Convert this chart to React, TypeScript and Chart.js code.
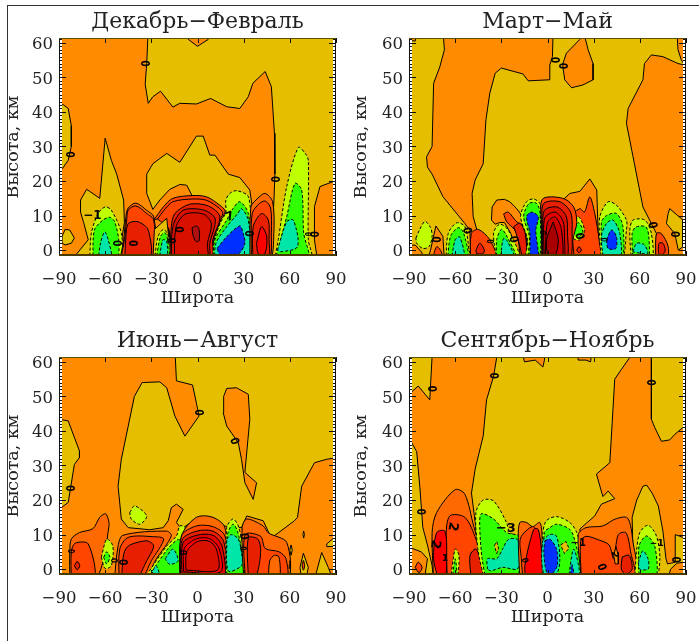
import { useEffect, useRef } from "react";
import { Chart, registerables } from "chart.js";

Chart.register(...registerables);

type Pt = [number, number];
type Lab = [number, number, string, number, number];
type Layer = [string, boolean, Pt[]];

const titles = ["Декабрь−Февраль", "Март−Май", "Июнь−Август", "Сентябрь−Ноябрь"];
const xTitle = "Широта";
const yTitle = "Высота, км";
const latTicks = [-90, -60, -30, 0, 30, 60, 90];
const kmTicks = [0, 10, 20, 30, 40, 50, 60];

const ORANGE = "#FF8C00", GOLD = "#E6BE00", LIME = "#BFFF00", GREEN = "#30FF00", TEAL = "#00E6A8", BLUE = "#0030FF";
const ORG2 = "#FF6A00", ORG3 = "#FF4500", RED1 = "#E62000", RED2 = "#D81000", RED3 = "#FF0000", RED4 = "#A80000";

const wholePlot: Pt[] = [[-95, -6], [95, -6], [95, 66], [-95, 66]];

// ---------- Декабрь-Февраль ----------
const djfGoldMain: Pt[] = [[-32, 64], [-33, 54], [-34, 48], [-32, 42.5], [-29, 44.4], [-24, 46], [-16, 41.4], [-11.5, 42.5], [-0.7, 42.3], [8.5, 43.9], [19, 41.5], [27.5, 41], [33, 44.4], [36, 48.3], [44, 51.7], [48, 47.3], [50, 33.8], [50.3, 22], [49.7, 14.5], [47.5, -3], [78, -3], [76, 3], [76, 12.6], [79.6, 18.4], [95, 21], [95, 64]];
const djfTopOrange: Pt[] = [[-7, 64], [-6, 61], [0, 59], [7, 61], [8, 64]];
const djfGoldLeft: Pt[] = [[-95, 43.8], [-87, 42], [-84, 41], [-82, 36], [-82, 30], [-84, 26], [-88, 23.5], [-95, 21]];
const djfGoldPatch: Pt[] = [[-88, 4], [-86, 6], [-83, 5.8], [-80, 3.5], [-82, 2], [-86, 1.5], [-88, 2]];
const djfGoldSpike: Pt[] = [[-76, 14.5], [-72, 17.6], [-63.5, 15], [-60, 32.4], [-56, 26], [-52.5, 22], [-48, 14.5], [-47.5, 8], [-50, 1], [-51, -3], [-82, -3], [-71, 3], [-74, 8], [-76, 11]];
const djfGoldCentre: Pt[] = [[-33, 22], [-29, 25], [-20, 28], [-11.5, 25.4], [-0.7, 33], [3.7, 33], [8, 27.5], [11.3, 27.5], [20, 22], [27.5, 21], [34, 17.4], [35.6, 12.5], [34, -3], [10, -3], [10, 2], [16, 10], [13, 13], [6, 15], [-3, 15.3], [-7, 18.8], [-11.5, 19], [-18, 17.6], [-24.5, 14.5], [-29, 11.8], [-33, 16.4]];
const djfLimeA: Pt[] = [[-70, -3], [-69, 4.8], [-64.6, 10.6], [-60, 12.5], [-56, 11.6], [-49.5, 4.8], [-50.5, -3]];
const djfGreenA: Pt[] = [[-68, -3], [-67, 5.8], [-61.4, 8.7], [-57, 9.5], [-53.8, 8.2], [-51, 2], [-53, -3]];
const djfTealA: Pt[] = [[-64.6, -3], [-63, 2], [-60.3, 5.3], [-58, 3], [-56, -3]];
const djfOrg2A: Pt[] = [[-50.5, -3], [-48, 3], [-46.5, 9.7], [-45, 12.2], [-40, 13.6], [-33, 11.5], [-28.4, 9.6], [-28, -3]];
const djfOrg3A: Pt[] = [[-50, -3], [-47.5, 3], [-46, 8.7], [-45, 11.6], [-40, 12.8], [-33, 10.6], [-28.4, 8.7], [-29, -3]];
const djfRed1A: Pt[] = [[-47.3, -3], [-46.5, 4], [-45, 7.7], [-38.6, 8.2], [-32, 5.8], [-31, -3]];
const djfGoldGap: Pt[] = [[-29, -3], [-28, 6], [-20, 9.2], [-19, 5], [-18, -3]];
const djfLimeB: Pt[] = [[-28, -3], [-25.6, 4], [-22, 6], [-19, 4], [-18, -3]];
const djfGreenB: Pt[] = [[-27, -3], [-24, 4], [-21, 5], [-19, 2], [-18.5, -3]];
const djfTealB: Pt[] = [[-25, -3], [-22.5, 3], [-20, 2.5], [-20, -3]];
const djfOrg3B: Pt[] = [[-28.4, 8.7], [-22, 12.6], [-16, 15], [-3, 15.8], [6, 15.4], [14.5, 13], [18, 11.2], [14.5, 8.2], [10, 3], [9, -3], [-18, -3], [-19, 5.8], [-20, 9.5]];
const djfOrg3C: Pt[] = [[-26, 9], [-22, 11.4], [-16, 14], [-3, 14.8], [6, 14.4], [14.5, 12], [16.5, 10.5], [13, 8.2], [9, 3], [8.5, -3], [-18, -3], [-18.5, 6]];
const djfRed1B: Pt[] = [[-18, -3], [-17, 6.8], [-14.7, 10.6], [-5, 13.3], [7, 12.8], [14.5, 9.7], [10, 3], [9, -3]];
const djfRed2B: Pt[] = [[-17, -3], [-16, 6.8], [-9.5, 11.5], [4, 11.6], [11.5, 9], [8, 2], [7, -3]];
const djfRed2C: Pt[] = [[-15, -3], [-14, 6.6], [-8, 10.4], [4, 10.4], [9, 7.6], [6.5, 2], [6, -3]];
const djfCore: Pt[] = [[-3.5, 6.5], [-0.5, 7], [1, 6], [1, 2.7], [-1, 2.5], [-3, 4.5]];
const djfLimeC: Pt[] = [[10, -3], [11, 3], [15, 8], [18.4, 11], [18.4, 14.5], [21, 16.4], [25.4, 17.2], [33, 15.5], [34.5, 6.8], [34.5, -3]];
const djfGreenC: Pt[] = [[10, -3], [11.3, 3], [19, 8.7], [23, 12], [27.5, 14], [33, 10.6], [34, -3]];
const djfTealC: Pt[] = [[11, -3], [12, 2], [19, 6.8], [26, 10.5], [28.6, 12], [33, 8.7], [33.5, -3]];
const djfBlueC: Pt[] = [[12.8, 0.5], [19, 3.9], [27.5, 7], [29.7, 4.8], [30.8, 2], [27, -1], [22, -1.2], [14.5, -1.2]];
const djfOrg2D: Pt[] = [[34, -3], [34.7, 12.5], [38, 14.5], [43.8, 16.4], [48.8, 14], [49.6, 4.8], [47, -3]];
const djfOrg3D: Pt[] = [[35, -3], [35.5, 10.5], [40, 13.4], [44, 14.2], [47.5, 12.2], [48, 5], [46.5, -3]];
const djfRed1D: Pt[] = [[36, -3], [36.2, 6.8], [41.6, 10.6], [46, 8.7], [46.5, 3], [46, -3]];
const djfRed3D: Pt[] = [[38.4, 2], [41.6, 6.8], [45, 3.9], [43.8, -1], [39.5, -1]];
const djfLimeE: Pt[] = [[50, -3], [52.5, 3], [58, 18.4], [65.5, 29.7], [70, 28], [72, 26], [72, 3], [74, -3]];
const djfGreenE: Pt[] = [[50.3, -3], [54, 3], [58, 9.7], [63.3, 19.3], [67.7, 17.4], [69, 5], [72, -3]];
const djfTealE: Pt[] = [[52, 0], [58, 8.2], [62.3, 8.7], [65, 1], [54, -0.5]];
const djfLabels: Lab[] = [[-34.7, 54, "0", 90, 12], [-83.5, 27.7, "0", 90, 12], [49.7, 20.5, "0", 90, 12], [-52.7, 2, "0", 90, 12], [-42.3, 2, "0", 90, 12], [-12.6, 6, "0", 90, 12], [-18, 2.7, "0", 90, 12], [33, 4.8, "0", 90, 12], [75.3, 4.6, "0", 90, 12], [71, 4.6, "0", 90, 8], [-68.3, 10, "−1", 0, 12], [21, 9.6, "7", 340, 12]];
const djfLayers: Layer[] = [[GOLD, false, djfGoldMain], [ORANGE, false, djfTopOrange], [GOLD, false, djfGoldLeft], [GOLD, false, djfGoldPatch], [GOLD, false, djfGoldSpike], [GOLD, false, djfGoldCentre], [LIME, true, djfLimeA], [GREEN, true, djfGreenA], [TEAL, true, djfTealA], [ORG2, false, djfOrg2A], [ORG3, false, djfOrg3A], [RED1, false, djfRed1A], [ORG3, false, djfOrg3B], [ORG3, false, djfOrg3C], [GOLD, false, djfGoldGap], [LIME, true, djfLimeB], [GREEN, true, djfGreenB], [TEAL, true, djfTealB], [RED1, false, djfRed1B], [RED2, false, djfRed2B], [RED2, false, djfRed2C], ["#B01010", false, djfCore], [LIME, true, djfLimeC], [GREEN, true, djfGreenC], [TEAL, true, djfTealC], [BLUE, true, djfBlueC], [ORG2, false, djfOrg2D], [ORG3, false, djfOrg3D], [RED1, false, djfRed1D], [RED3, false, djfRed3D], [LIME, true, djfLimeE], [GREEN, true, djfGreenE], [TEAL, true, djfTealE]];

// ---------- Март-Май ----------
const mamOrangeLeft: Pt[] = [[-68, 64], [-67, 58], [-70, 53], [-74, 48.3], [-75, 30], [-78.6, 27], [-78, 24], [-75, 22], [-68, 15.5], [-53.7, 7.7], [-50.4, 5.8], [-50, -3], [-33, -3], [-36, 0], [-41, 3.5], [-46, 6], [-48.3, 9.7], [-49, 16.4], [-47, 20.3], [-41.8, 25], [-40, 37.7], [-37.5, 45.4], [-34, 51.2], [-30, 52.7], [-16, 51], [-12.5, 49], [1, 49.3], [1.5, 53.6], [3.2, 56], [3.7, 64]];
const mamOrangeUp: Pt[] = [[10, 54], [12.3, 57], [21, 61], [23, 64], [26.4, 58], [29.6, 54], [29.6, 49.3], [23, 47.8], [15.6, 47], [11.2, 49.3], [10, 53]];
const mamOrangeRight: Pt[] = [[63, 54], [67.5, 56.5], [75, 56], [84.8, 54], [95, 53], [95, -3], [70, -3], [70.8, 4.8], [67.5, 7.7], [62, 12.5], [55.6, 27], [51.3, 36.7], [52.4, 41], [62, 49.3]];
const mamOrangeCorner: Pt[] = [[84, 64], [84.8, 58], [87, 55], [90, 53], [95, 53], [95, 64]];
const mamOrangeTL: Pt[] = [[-95, 61], [-86, 60.5], [-84, 64], [-95, 64]];
const mamGoldPocket: Pt[] = [[79.4, 12], [88, 8.7], [88, 1], [85, 0], [82.7, 4.8], [77.3, 7.7], [78.4, 10.6]];
const mamOrangeBL: Pt[] = [[-95, 1], [-86, 1.5], [-82, -0.5], [-79, -3], [-95, -3]];
const mamLimeA: Pt[] = [[-85.5, 3.5], [-83, 6], [-79.6, 8.3], [-76, 6.5], [-75, 4], [-77, 1], [-81, 0.5], [-85, 2]];
const mamOrangeB: Pt[] = [[-78, -3], [-76, 0], [-75, 2], [-72.5, 7], [-68, 4], [-67, -3]];
const mamOrg3B: Pt[] = [[-75, -3], [-72, 1], [-69, -0.5], [-68, -3]];
const mamLimeC: Pt[] = [[-66, -3], [-64.5, 4.8], [-59, 7.9], [-53.7, 6.8], [-51, 0], [-50, -3]];
const mamGreenC: Pt[] = [[-65, -3], [-63, 4], [-58, 6.5], [-54.5, 5], [-52, -3]];
const mamTealC: Pt[] = [[-62.5, -3], [-60, 3], [-57, 3.8], [-54, -3]];
const mamOrg3D: Pt[] = [[-50, -3], [-49.5, 4.8], [-45, 6], [-37.5, 3], [-33, -3]];
const mamRed1D: Pt[] = [[-46.5, 0], [-44, 2], [-41, 0], [-42, -1], [-46, -1]];
const mamOrangeE: Pt[] = [[-36.4, 8.7], [-36, 12.5], [-33, 14.5], [-28, 14.7], [-24.5, 14], [-20, 12], [-15, 9], [-13, 5], [-13, -3], [-18, -3], [-24, 5], [-28, 8], [-31, 8], [-34, 7.5]];
const mamOrg3E: Pt[] = [[-28.5, 10.5], [-25.5, 11], [-20, 8.2], [-15, 6.8], [-13.5, -3], [-17, -3], [-20, 5], [-26.5, 8.2]];
const mamRed1E: Pt[] = [[-22, 6.8], [-18, 7.8], [-14.5, 4.8], [-13.5, -3], [-15.5, -3], [-19, 2.9]];
const mamLimeF: Pt[] = [[-33, -3], [-35, 5], [-31, 7.5], [-25.5, 5.8], [-18, -3]];
const mamGreenF: Pt[] = [[-33, -3], [-33, 3], [-30, 6], [-27, 4.5], [-20, -3]];
const mamTealF: Pt[] = [[-30, -3], [-30, 0], [-28.5, 3.4], [-26, 2.5], [-21, -3]];
const mamLimeG: Pt[] = [[-15, -3], [-13, 3], [-17.5, 9.7], [-13.6, 14], [-9, 14.8], [-5, 13.5], [-4.5, 10.6], [-5, -3]];
const mamGreenG: Pt[] = [[-13, -3], [-11.8, 4], [-15.5, 9.7], [-12, 13.5], [-7, 13.5], [-4.8, 10.6], [-5.5, -3]];
const mamBlueG: Pt[] = [[-11.5, -3], [-11.5, 5], [-13.6, 9.7], [-10.4, 11], [-6, 9.7], [-7.6, 5.8], [-6, -3]];
const mamOrangeH: Pt[] = [[10, 14.5], [14.5, 16.4], [21, 17], [27.5, 20.6], [32, 17.4], [33.5, -3], [0, -3]];
const mamOrg3H: Pt[] = [[12, 9], [21, 12], [24, 11], [27.5, 15.4], [30.7, 10.6], [33.5, 3], [33.8, -3], [10, -3]];
const mamLimeH: Pt[] = [[16.2, 5.8], [20, 9.7], [24, 5.8], [21, 3], [16.7, 3.4]];
const mamGreenH: Pt[] = [[17, 5], [20, 8], [23, 5.5], [20, 3.6]];
const mamDiamond: Pt[] = [[19, 0], [20.5, 1], [22, 0], [20.5, -0.8]];
const mamSt1: Pt[] = [[-3.5, -3], [-4, 8], [-3.2, 14.8], [10, 15], [17, 12.5], [19, 8], [16.5, 3], [16, -3]];
const mamSt2: Pt[] = [[-3, -3], [-3.5, 8], [-2.5, 13.5], [8, 14], [15, 11], [16, 6], [14, -3]];
const mamSt3: Pt[] = [[-3, -3], [-3, 6], [-2, 11.5], [6, 12.5], [12, 10], [13, 5], [12, -3]];
const mamSt4: Pt[] = [[-2, -3], [-2.5, 5], [-1.5, 9.5], [5, 11], [10, 8.5], [11, 4], [10, -3]];
const mamSt5: Pt[] = [[-1.5, -3], [0, 8], [5, 9.6], [9, 6], [9, -3]];
const mamSt6: Pt[] = [[3.7, 8.2], [7, 3], [5, -1.5], [0.5, -1.5], [-0.6, 3]];
const mamLimeI: Pt[] = [[35, -3], [34, 3], [34, 9.7], [39.4, 14], [44.8, 13], [51.3, 8.7], [51.3, 5.8], [48, -3]];
const mamGreenI: Pt[] = [[36, -3], [35, 8], [38.3, 10], [44.8, 10.6], [49, 6.8], [48, -3]];
const mamTealI: Pt[] = [[36.5, -3], [35, 4], [38.3, 7.7], [42.6, 8.7], [47, 4.8], [47, -3]];
const mamBlueI: Pt[] = [[38.3, 3], [41.6, 5.8], [44.8, 3.9], [44.4, 0.5], [39.4, 0.5]];
const mamLimeJ: Pt[] = [[54.5, -3], [53.5, 5.8], [55.6, 8.7], [63.2, 8.7], [67.5, 4.8], [67.5, -3]];
const mamGreenJ: Pt[] = [[55.5, -3], [55, 4.8], [57.5, 6.7], [64, 6.7], [66, 3], [65, -3]];
const mamTealJ: Pt[] = [[55.5, -0.5], [58, 2], [63, 1.5], [65, -1]];
const mamOrg3K: Pt[] = [[70.3, -3], [70.8, 4.8], [74, 4.8], [78.4, 1], [77.5, -3]];
const mamRed1K: Pt[] = [[72, 0], [72.5, 2], [75, 2], [76.5, 0], [75, -1.2], [72.5, -1.2]];
const mamLabels: Lab[] = [[4, 55, "0", 90, 12], [9.5, 53.3, "0", 90, 12], [-52.6, 5.6, "0", 75, 12], [-73, 3.1, "0", 90, 12], [-22.3, 3.1, "0", 75, 12], [20.6, 4, "0", 75, 12], [68, 7.2, "0", 75, 12], [82.3, 4.6, "0", 90, 12], [36, 3, "0", 90, 8], [-38, 2.5, "0", 90, 8], [-3.5, 5, "0", 90, 8]];
const mamLayers: Layer[] = [[ORANGE, false, mamOrangeLeft], [ORANGE, false, mamOrangeUp], [ORANGE, false, mamOrangeRight], [ORANGE, false, mamOrangeCorner], [ORANGE, false, mamOrangeTL], [GOLD, false, mamGoldPocket], [ORANGE, false, mamOrangeBL], [LIME, true, mamLimeA], [ORANGE, false, mamOrangeB], [ORG3, false, mamOrg3B], [LIME, true, mamLimeC], [GREEN, true, mamGreenC], [TEAL, true, mamTealC], [ORG3, false, mamOrg3D], [RED1, false, mamRed1D], [ORANGE, false, mamOrangeE], [ORG3, false, mamOrg3E], [RED1, false, mamRed1E], [LIME, true, mamLimeF], [GREEN, true, mamGreenF], [TEAL, true, mamTealF], [LIME, true, mamLimeG], [GREEN, true, mamGreenG], [BLUE, true, mamBlueG], [ORANGE, false, mamOrangeH], [ORG3, false, mamOrg3H], [LIME, true, mamLimeH], [GREEN, true, mamGreenH], [RED1, false, mamDiamond], [ORG3, false, mamSt1], [RED1, false, mamSt2], [RED2, false, mamSt3], ["#E60000", false, mamSt4], ["#D00000", false, mamSt5], [RED4, false, mamSt6], [LIME, true, mamLimeI], [GREEN, true, mamGreenI], [TEAL, true, mamTealI], [BLUE, true, mamBlueI], [LIME, true, mamLimeJ], [GREEN, true, mamGreenJ], [TEAL, true, mamTealJ], [ORG3, false, mamOrg3K], [RED1, false, mamRed1K]];

// ---------- Июнь-Август ----------
const jjaGoldMain: Pt[] = [[-14.7, 64], [-13.7, 54.5], [-3.2, 53.3], [-0.7, 48], [1, 44.3], [-8.2, 38.5], [-14.7, 44.3], [-20, 52.5], [-24.5, 54.2], [-36, 54], [-41, 50], [-49.5, 31.8], [-51.6, 24], [-49.5, 14.5], [-45, 12], [-31, 11.4], [-22.3, 12], [-19, 14], [-17, 17.8], [-13.7, 18.8], [-9.3, 17.3], [-13.7, 13.5], [-10.4, 11.6], [0.4, 15], [10, 14.8], [16.7, 12.5], [28.6, 12], [32, 15.4], [42.7, 14], [48, 9], [63, 14], [65, 15], [67.7, 24], [76, 30.8], [84, 31.8], [95, 32.6], [95, 64]];
const jjaIsle: Pt[] = [[17, 50], [19, 52.3], [25.4, 52.5], [33, 50.6], [34, 43.4], [30.8, 28], [38.4, 25], [36.2, 20.2], [30.8, 25], [28.6, 31.8], [26.5, 36.6], [19, 41.4], [16.7, 45.3]];
const jjaGoldLeft: Pt[] = [[-95, 43.8], [-84, 42.9], [-76.7, 34.2], [-76.7, 32.3], [-80, 30.3], [-84, 19.3], [-88.5, 17.8], [-95, 17]];
const jjaLimeIsle: Pt[] = [[-44, 16.4], [-40.8, 18.3], [-33, 15.4], [-37.5, 13], [-43, 14.5]];
const jjaGoldBox: Pt[] = [[84, 7.3], [88, 8.8], [95, 8.6], [95, 6.7], [84, 6.5]];
const jjaGoldLow: Pt[] = [[76, -3], [80.7, 4.8], [85, 0.5], [88, -3]];
const jjaOrg2A: Pt[] = [[-83, -3], [-83, 5], [-82, 8.7], [-76.6, 10.6], [-68, 11.7], [-63.5, 15], [-59.6, 16], [-57.5, 12.5], [-66, -3]];
const jjaOrg3A: Pt[] = [[-82, -3], [-82, 5], [-79.5, 7.5], [-71, 7.3], [-67, -3]];
const jjaDiamond: Pt[] = [[-80, 1], [-78.2, 2.2], [-76.5, 1], [-78.2, -0.2]];
const jjaLimeB: Pt[] = [[-62.5, 3.4], [-59, 8.7], [-55, 6.7], [-56, 1], [-60, 0.2]];
const jjaGreenB: Pt[] = [[-61, 3.4], [-59, 5], [-57, 3.5], [-59, 1.5]];
const jjaOrg2C: Pt[] = [[-54, -3], [-51.6, 6.7], [-48.4, 9.8], [-20, 11], [-17, 9.6], [-26.7, 3], [-35, -3]];
const jjaOrg3C: Pt[] = [[-51, -3], [-50.5, 5.8], [-45, 9.2], [-29, 9.4], [-22, 8.7], [-30, 2.4], [-37, -3]];
const jjaRed1C: Pt[] = [[-49.5, -3], [-46.5, 6], [-33.5, 8.2], [-28.5, 6.8], [-33, 2.4], [-40, -3]];
const jjaLimeD: Pt[] = [[-35, -3], [-20, 6.7], [-13.7, 9.6], [-11.5, 12.5], [-8, 12], [-10.4, -3]];
const jjaGreenD: Pt[] = [[-33, -3], [-20, 5.5], [-13, 8.5], [-10.5, 8], [-10.5, -3]];
const jjaTealD: Pt[] = [[-21, 3], [-16, 5.8], [-12.6, 2.4], [-18, 1.4]];
const jjaTealE: Pt[] = [[-31, -3], [-27, 1], [-24.5, -3]];
const jjaSt1: Pt[] = [[-11.5, -3], [-10.4, 9.6], [-0.7, 15], [10, 15], [17.8, 12], [19, -3]];
const jjaSt2: Pt[] = [[-11.5, -3], [-10.4, 9.6], [-0.7, 12.5], [10, 12.3], [17.8, 9.6], [19, -3]];
const jjaSt3: Pt[] = [[-11, -3], [-10, 8.5], [-0.5, 11], [10, 11], [17, 8], [18, -3]];
const jjaSt4: Pt[] = [[-10, -3], [-9.5, 7.5], [-0.5, 9.8], [10, 9.8], [16, 6.5], [16.5, -3]];
const jjaSt5: Pt[] = [[-9, -0.8], [-8.5, 6], [-0.5, 8.8], [8, 8.8], [14, 6], [15, -0.8]];
const jjaSt6: Pt[] = [[-7.5, -0.3], [-7, 5], [0, 8], [8, 8], [12.5, 5.5], [13, -0.3]];
const jjaLimeF: Pt[] = [[18.5, -3], [19, 12], [23, 14.5], [26.5, 12.5], [30, 4.8], [29.5, -3]];
const jjaGreenF: Pt[] = [[19, -3], [19.5, 10], [23, 13], [26, 11], [29, 4], [29, -3]];
const jjaTealF: Pt[] = [[19, 8.7], [22, 10], [26.5, 8.7], [28.6, 4.8], [28.6, 1], [20, -0.5]];
const jjaOrg2G: Pt[] = [[30, -3], [29, 12], [32, 14.5], [42.7, 12.5], [46, 10.5], [58, 7.7], [58.3, -3]];
const jjaOrg3G: Pt[] = [[31, -3], [31, 10], [41, 9.5], [44, 6], [53, 5], [57.5, 3], [57.5, -3]];
const jjaHook: Pt[] = [[46, -3], [47, 2.5], [50, 4], [53, 3.5], [53, -3]];
const jjaRed1G: Pt[] = [[33, -3], [33, 9], [39, 8.8], [41, 6], [40, 1], [37, -3]];
const jjaLens: Pt[] = [[66.6, 0.5], [68.8, 4.6], [72, 0.5], [70.5, -3], [67.7, -3]];
const jjaLensIn: Pt[] = [[68, 1], [68.8, 2.5], [69.6, 1], [68.8, -0.3]];
const jjaTickA: Pt[] = [[68.5, 10], [69, 11], [69.5, 10], [69, 9]];
const jjaTickB: Pt[] = [[60, 5.5], [60.8, 7], [61.6, 5.5], [60.8, 4]];
const jjaTickC: Pt[] = [[59.6, 1.2], [60, 2.4], [60.5, 1.2], [60, 0.2]];
const jjaLabels: Lab[] = [[0.5, 45.3, "0", 90, 12], [23.7, 37, "0", 60, 12], [-83.5, 23.4, "0", 90, 12], [-49, 2, "0", 90, 12], [30, 9.4, "0", 80, 12], [-10.4, 4.8, "0", 90, 10], [-55, 2.5, "0", 90, 9], [-83, 5.2, "0", 90, 8], [29, 6, "0", 90, 8]];
const jjaLayers: Layer[] = [[GOLD, false, jjaGoldMain], [ORANGE, false, jjaIsle], [GOLD, false, jjaGoldLeft], [LIME, true, jjaLimeIsle], [GOLD, false, jjaGoldBox], [GOLD, false, jjaGoldLow], [ORG2, false, jjaOrg2A], [ORG3, false, jjaOrg3A], [RED1, false, jjaDiamond], [LIME, true, jjaLimeB], [GREEN, true, jjaGreenB], [ORG2, false, jjaOrg2C], [ORG3, false, jjaOrg3C], [RED1, false, jjaRed1C], [LIME, true, jjaLimeD], [GREEN, true, jjaGreenD], [TEAL, true, jjaTealD], [TEAL, true, jjaTealE], [ORG2, false, jjaSt1], [ORG3, false, jjaSt2], [RED1, false, jjaSt3], ["#E60000", false, jjaSt4], [RED3, false, jjaSt5], [RED2, false, jjaSt6], [LIME, true, jjaLimeF], [GREEN, true, jjaGreenF], [TEAL, true, jjaTealF], [ORG2, false, jjaOrg2G], [ORG3, false, jjaOrg3G], [ORG2, false, jjaHook], [RED1, false, jjaRed1G], [GOLD, false, jjaLens], [ORG3, false, jjaLensIn], [GOLD, false, jjaTickA], [GOLD, false, jjaTickB], [GOLD, false, jjaTickC]];

// ---------- Сентябрь-Ноябрь ----------
const sonGoldCentre: Pt[] = [[-32, 64], [-35, 55.9], [-39.6, 49], [-41.8, 38.5], [-47, 29], [-49.4, 22], [-46, 10], [-40, -3], [25, -3], [21, 11.6], [30.7, 15.4], [35, 18.8], [43.7, 20.4], [39.4, 22.6], [36, 21], [31.8, 27.5], [40.5, 30.8], [43.7, 55], [48, 57.8], [57.8, 64]];
const sonTopA: Pt[] = [[-17, 64], [-15, 60], [-8, 60.5], [-3, 58.5], [-2, 60.5], [-1.5, 64]];
const sonTopB: Pt[] = [[19, 64], [20, 60.5], [25, 60.5], [28, 60], [29, 64]];
const sonGoldRight: Pt[] = [[67.5, 64], [67.5, 43.4], [69.7, 41], [74, 37], [79.4, 37.4], [82.7, 39], [88, 41], [95, 41.6], [95, 64]];
const sonGoldLow: Pt[] = [[56, -3], [55, 15], [58, 20], [62, 24], [64.5, 24.3], [68, 22], [72, 18.3], [75, 11], [77, 3], [78, 1.5], [83, 2], [83, 10], [86, 9.5], [89, 9], [88.5, 2], [84, 1.7], [80, 0], [78, -3]];
const sonGoldTL: Pt[] = [[-95, 50], [-90, 50.6], [-84, 53], [-76.5, 49], [-74.7, 64], [-95, 64]];
const sonGoldL: Pt[] = [[-95, 38.5], [-90, 38], [-85, 34], [-83, 24], [-81, 12], [-78, 7], [-75, 1], [-74, -3], [-80, -3], [-78, 3], [-82, 5], [-88, 6], [-95, 6]];
const sonDiamond: Pt[] = [[-86, 0.5], [-84, 2], [-81.5, 0.5], [-83.5, -1]];
const sonOrg2A: Pt[] = [[-74, -3], [-75, 10.6], [-72, 16.4], [-60, 23], [-53.7, 21.7], [-48, 12.5], [-42, 3], [-41, -3]];
const sonOrg3A: Pt[] = [[-65, -3], [-66, 9], [-63.5, 15.4], [-53.7, 15], [-46.5, 8.7], [-41.8, 1], [-41.5, -3]];
const sonRed1A: Pt[] = [[-49.5, -3], [-50.4, 3.9], [-46.5, 5.8], [-42, 0], [-43, -3]];
const sonRedStripe: Pt[] = [[-71, -3], [-74, 3], [-72, 10.6], [-66.7, 11], [-65.5, 4], [-66.7, -3]];
const sonLimeB: Pt[] = [[-63, -3], [-60, 5.8], [-57.5, 3.9], [-59, -3]];
const sonGreenB: Pt[] = [[-62, -3], [-60, 3], [-59, -3]];
const sonLimeC: Pt[] = [[-41, -3], [-45, 5], [-46.5, 16.4], [-41.8, 20], [-35, 19.7], [-26.6, 13.5], [-24.5, 10.6], [-16, 8.7], [-13.6, 4.8], [-17, 3], [-18, -3]];
const sonGreenC: Pt[] = [[-40, -3], [-42.5, 3], [-44, 12], [-43, 16], [-35, 14.5], [-26.6, 10.6], [-18, 9.5], [-14.7, 4.8], [-18, 1], [-20, -3]];
const sonTealC: Pt[] = [[-39, 0], [-39, 3], [-33, 3], [-29, 6], [-25.6, 8.5], [-20, 8.7], [-17, 5.8], [-17, 2.9], [-20, 0], [-29, 0.5], [-37, -0.5]];
const sonSpot: Pt[] = [[-34.5, 6.8], [-33, 8], [-31.8, 6], [-33, 4.5]];
const sonOrg2D: Pt[] = [[-18, -3], [-19, 9], [-18, 13.5], [-13.6, 13.5], [-9.7, 12.3], [-5, 13.5], [-3.5, 9], [-4, -3]];
const sonOrg3D: Pt[] = [[-16, -3], [-17, 3], [-17.5, 9], [-9.7, 12.3], [-5.5, 10], [-4, -3]];
const sonRedD: Pt[] = [[-14, -3], [-14.7, 1], [-9, 11.5], [-6, 11.5], [-3.5, 4], [-2, -3]];
const sonLimeE: Pt[] = [[-3.5, -3], [-3, 10.6], [-0.7, 14], [6, 15.2], [14.5, 13.5], [19, 10.6], [23.2, 3], [23.2, -3]];
const sonGreenE: Pt[] = [[-3, -3], [-2, 10.6], [1.5, 12], [6, 13], [14.5, 11.5], [17.5, 8.7], [21.5, -3]];
const sonTealE: Pt[] = [[-3.2, 8.2], [1.5, 10], [5.8, 9.6], [8, 2.9], [5.8, -1.4], [-2, -1.4], [-3.8, 3]];
const sonBlueE: Pt[] = [[-1.7, 8.2], [1.5, 8.7], [5.8, 5.8], [6.3, 1], [2.6, -1.4], [-0.6, -0.9], [-2.4, 5]];
const sonGoldSpot: Pt[] = [[8.5, 7], [12, 8], [14, 6], [11, 4.5]];
const sonTealF: Pt[] = [[13.5, -3], [17, 5.8], [21, -3]];
const sonBlueF: Pt[] = [[14.7, -3], [15.8, 1.4], [17.4, -3]];
const sonOrg2G: Pt[] = [[22, -3], [20, 10], [25, 12], [36, 12.5], [44, 14.5], [52, 14.8], [55.5, 8], [57, -3]];
const sonOrg3G: Pt[] = [[22, -3], [21.5, 8], [25, 9.5], [33, 8.5], [40, 7], [43, 3], [46, 10], [51, 10.5], [54, 5], [56, -3]];
const sonRed1G: Pt[] = [[48.5, 3.5], [53, 4], [55, 0], [51, -1.5], [48, 0]];
const sonRing: Pt[] = [[43, 4], [44.5, 6.5], [46, 4], [46, 1.5], [44, 1.5]];
const sonLimeH: Pt[] = [[56.7, -3], [57.8, 4.8], [60, 10.6], [65.4, 12.7], [70.8, 9.6], [73, 2.9], [70, -3]];
const sonGreenH: Pt[] = [[59.5, -3], [59.5, 6.7], [64.3, 9.6], [69.7, 6.7], [70.3, -3]];
const sonTealH: Pt[] = [[59, 1.9], [62, 5.3], [65.4, 2.9], [65.4, 0], [60, 0]];
const sonLabels: Lab[] = [[-75.7, 52.2, "0", 90, 12], [-35.3, 56, "0", 90, 12], [-82.5, 16.6, "0", 90, 12], [67, 54, "0", 90, 12], [82.7, 2.7, "0", 90, 12], [35, 0.5, "0", 60, 12], [-61.7, 12.3, "2", 100, 13], [-73, 7.2, "2", 100, 13], [-27, 11.8, "−3", 0, 13], [43.7, 4.3, "2", 90, 9], [-15, 2.5, "0", 70, 9], [20, 7.5, "−1", 0, 10], [71, 7.5, "−1", 0, 9], [-66.5, 3, "1", 0, 9]];
const sonLayers: Layer[] = [[GOLD, false, sonGoldCentre], [ORANGE, false, sonTopA], [ORANGE, false, sonTopB], [GOLD, false, sonGoldRight], [GOLD, false, sonGoldLow], [GOLD, false, sonGoldTL], [GOLD, false, sonGoldL], [ORG3, false, sonDiamond], [ORG2, false, sonOrg2A], [ORG3, false, sonOrg3A], [RED1, false, sonRed1A], [RED3, false, sonRedStripe], [LIME, true, sonLimeB], [GREEN, true, sonGreenB], [LIME, true, sonLimeC], [GREEN, true, sonGreenC], [TEAL, true, sonTealC], [GOLD, true, sonSpot], [ORG2, false, sonOrg2D], [ORG3, false, sonOrg3D], [RED3, false, sonRedD], [LIME, true, sonLimeE], [GREEN, true, sonGreenE], [TEAL, true, sonTealE], [BLUE, true, sonBlueE], [GOLD, true, sonGoldSpot], [TEAL, true, sonTealF], [BLUE, true, sonBlueF], [ORG2, false, sonOrg2G], [ORG3, false, sonOrg3G], [RED1, false, sonRed1G], [ORANGE, false, sonRing], [LIME, true, sonLimeH], [GREEN, true, sonGreenH], [TEAL, true, sonTealH]];

const panels = [
  { left: 8, top: 6, width: 342, yWidth: 51, padRight: 14, yOff: -3, base: ORANGE, layers: djfLayers, labels: djfLabels },
  { left: 350, top: 6, width: 349, yWidth: 59, padRight: 13, yOff: 3, base: GOLD, layers: mamLayers, labels: mamLabels },
  { left: 8, top: 325, width: 342, yWidth: 51, padRight: 14, yOff: -3, base: ORANGE, layers: jjaLayers, labels: jjaLabels },
  { left: 350, top: 325, width: 349, yWidth: 59, padRight: 13, yOff: 3, base: ORANGE, layers: sonLayers, labels: sonLabels },
];

const FONT = "'DejaVu Serif'";

const framePlugin = {
  id: "idlFrame",
  afterDatasetsDraw(chart: any, _a: any, opts: any) {
    const { ctx, chartArea: a, scales } = chart;
    const { x, y } = scales;
    ctx.save();
    ctx.beginPath();
    ctx.rect(a.left - 1, a.top - 1, a.right - a.left + 2, a.bottom - a.top + 2);
    ctx.clip();
    ctx.textAlign = "center";
    ctx.textBaseline = "middle";
    ctx.fillStyle = "#000";
    for (const [lat, km, text, rot, size] of opts.labels as Lab[]) {
      ctx.save();
      ctx.translate(x.getPixelForValue(lat), y.getPixelForValue(km));
      if (text === "0") ctx.scale(1, 0.78);
      ctx.rotate((rot * Math.PI) / 180);
      ctx.font = `bold ${size}px 'DejaVu Sans'`;
      ctx.fillText(text, 0, 0);
      ctx.restore();
    }
    ctx.restore();
    ctx.save();
    ctx.fillStyle = "#fff";
    ctx.fillRect(a.left, a.top, 3, a.bottom - a.top);
    ctx.fillRect(a.right - 3, a.top, 3, a.bottom - a.top);
    ctx.strokeStyle = "#111";
    ctx.lineWidth = 1;
    ctx.beginPath();
    for (let km = 0; km <= 61; km++) {
      const py = Math.round(y.getPixelForValue(km)) + 0.5;
      const len = km % 10 === 0 ? 7 : 3;
      ctx.moveTo(a.left, py);
      ctx.lineTo(a.left + len, py);
      ctx.moveTo(a.right, py);
      ctx.lineTo(a.right - len, py);
    }
    for (const lat of latTicks) {
      const px = Math.round(x.getPixelForValue(lat)) + 0.5;
      ctx.moveTo(px, a.top);
      ctx.lineTo(px, a.top + 5);
      ctx.moveTo(px, a.bottom);
      ctx.lineTo(px, a.bottom - 5);
    }
    ctx.moveTo(a.left + 0.5, a.top);
    ctx.lineTo(a.left + 0.5, a.bottom);
    ctx.moveTo(a.right - 0.5, a.top);
    ctx.lineTo(a.right - 0.5, a.bottom);
    ctx.stroke();
    ctx.strokeStyle = "#5A5200";
    ctx.beginPath();
    ctx.moveTo(a.left, a.top + 0.5);
    ctx.lineTo(a.right, a.top + 0.5);
    ctx.stroke();
    ctx.strokeStyle = "#4A3A00";
    ctx.lineWidth = 2;
    ctx.beginPath();
    ctx.moveTo(a.left, a.bottom - 1);
    ctx.lineTo(a.right, a.bottom - 1);
    ctx.stroke();
    ctx.restore();
  },
};

function toDataset(layer: Layer, i: number, n: number) {
  const [color, dashed, pts] = layer;
  const closed = [...pts, pts[0]];
  return {
    data: closed.map(([x, y]) => ({ x, y })),
    backgroundColor: color,
    borderColor: "#000",
    borderWidth: 1,
    borderDash: dashed ? [3, 2] : [],
    fill: "shape",
    pointRadius: 0,
    tension: color === GOLD || color === ORANGE ? 0 : 0.3,
    capBezierPoints: false,
    order: n - i,
  };
}

function Panel({ index }: { index: number }) {
  const ref = useRef<HTMLCanvasElement>(null);
  const p = panels[index];
  useEffect(() => {
    const base: Layer[] = [[p.base, false, wholePlot]];
    const all = [...base, ...p.layers];
    const chart = new Chart(ref.current as HTMLCanvasElement, {
      type: "line",
      data: { datasets: all.map((l, i) => toDataset(l, i, all.length)) as any },
      plugins: [framePlugin as any],
      options: {
        animation: false,
        responsive: false,
        events: [],
        layout: { padding: { right: p.padRight, left: 0, top: 0, bottom: 0 } },
        plugins: {
          legend: { display: false },
          tooltip: { enabled: false },
          filler: { drawTime: "beforeDatasetDraw" },
          title: {
            display: true,
            text: titles[index],
            fullSize: false,
            color: "#222",
            font: { family: FONT, size: 22, weight: "normal", lineHeight: 1.2 },
            padding: { top: 3, bottom: 2.6 },
          },
          idlFrame: { labels: p.labels },
        } as any,
        scales: {
          x: {
            type: "linear",
            min: -90,
            max: 90,
            grid: { display: false },
            border: { display: false },
            afterBuildTicks: (s: any) => {
              s.ticks = latTicks.map((value) => ({ value }));
            },
            afterFit: (s: any) => {
              s.height = 64;
              s.paddingLeft = 0;
              s.paddingRight = 0;
            },
            ticks: {
              autoSkip: false,
              maxRotation: 0,
              padding: 6,
              color: "#222",
              font: { family: FONT, size: 16.5 },
              callback: (v: any) => String(v).replace("-", "−"),
            },
            title: {
              display: true,
              text: xTitle,
              color: "#222",
              font: { family: FONT, size: 17.5 },
              padding: { top: 0, bottom: 11 },
            },
          },
          y: {
            type: "linear",
            min: -1.7,
            max: 61.4,
            grid: { display: false, drawTicks: false },
            border: { display: false },
            afterBuildTicks: (s: any) => {
              s.ticks = kmTicks.map((value) => ({ value }));
            },
            afterFit: (s: any) => {
              s.width = p.yWidth;
              s.paddingTop = 0;
              s.paddingBottom = 0;
            },
            ticks: {
              autoSkip: false,
              padding: 6,
              labelOffset: 2,
              color: "#222",
              font: { family: FONT, size: 16.5 },
            },
            title: {
              display: true,
              text: yTitle,
              color: "#222",
              font: { family: FONT, size: 17.5, lineHeight: 1 },
              padding: { top: p.yOff, bottom: 0 },
            },
          },
        },
      } as any,
    });
    return () => chart.destroy();
  }, []);
  return (
    <canvas
      ref={ref}
      width={p.width}
      height={314}
      style={{ position: "absolute", left: p.left, top: p.top, width: p.width, height: 314 }}
    />
  );
}

export default function App() {
  return (
    <div style={{ position: "absolute", left: 0, top: 0, width: 699, height: 641, overflow: "hidden", background: "#fff" }}>
      <div style={{ position: "absolute", left: 7, top: 5, width: 692, height: 1, background: "#333" }} />
      <div style={{ position: "absolute", left: 7, top: 5, width: 1, height: 636, background: "#333" }} />
      {panels.map((_, i) => (
        <Panel key={i} index={i} />
      ))}
    </div>
  );
}
